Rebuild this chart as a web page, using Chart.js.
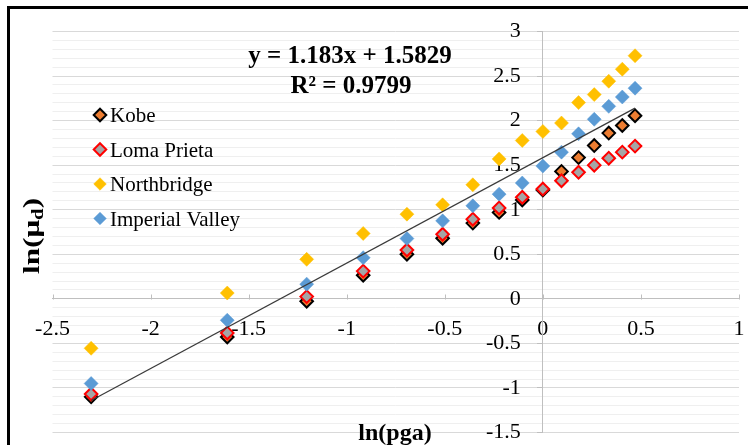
<!DOCTYPE html>
<html>
<head>
<meta charset="utf-8">
<script src="https://cdn.jsdelivr.net/npm/chart.js@4.4.0/dist/chart.umd.min.js"></script>
<style>
  body { margin: 0; background: #fff; }
</style>
</head>
<body>
<canvas id="grafico" width="748" height="445"></canvas>
<script>
// ln(pga) en el eje x
const lnPga = [-2.303, -1.609, -1.204, -0.916, -0.693, -0.511, -0.357, -0.223, -0.105, 0, 0.095, 0.182, 0.262, 0.336, 0.405, 0.47];

// ln(mu_d) por sismo
const kobe = [-1.10, -0.428, -0.027, 0.265, 0.50, 0.68, 0.85, 0.97, 1.11, 1.22, 1.43, 1.585, 1.72, 1.86, 1.945, 2.055];
const lomaPrieta = [-1.068, -0.383, 0.025, 0.311, 0.548, 0.725, 0.894, 1.02, 1.14, 1.232, 1.326, 1.42, 1.50, 1.578, 1.646, 1.714];
const northbridge = [-0.555, 0.065, 0.443, 0.733, 0.95, 1.055, 1.28, 1.57, 1.777, 1.878, 1.973, 2.202, 2.292, 2.442, 2.577, 2.728];
const imperialValley = [-0.95, -0.24, 0.165, 0.462, 0.676, 0.875, 1.044, 1.175, 1.30, 1.49, 1.646, 1.852, 2.015, 2.16, 2.265, 2.364];

const nombresSeries = ['Kobe', 'Loma Prieta', 'Northbridge', 'Imperial Valley'];

// linea de tendencia (extremos)
const tendenciaX = [-2.303, 0.47];
const tendenciaY = [-1.14, 2.14];
const ecuacion = 'y = 1.183x + 1.5829';
const r2 = 'R² = 0.9799';

const xTickLabels = ['-2.5', '-2', '-1.5', '-1', '-0.5', '0', '0.5', '1'];
const yTickLabels = ['-1.5', '-1', '-0.5', '0', '0.5', '1', '1.5', '2', '2.5', '3'];

const estilos = [
    { fondo: '#ED7D31', borde: '#000000', ancho: 2, radio: 6.3 },
    { fondo: '#A5A5A5', borde: '#FF0000', ancho: 2, radio: 6.3 },
    { fondo: '#FFC000', borde: '#FFC000', ancho: 0.5, radio: 7 },
    { fondo: '#5B9BD5', borde: '#5B9BD5', ancho: 0.5, radio: 7 }
];

const series = [kobe, lomaPrieta, northbridge, imperialValley];
const FUENTE = '"Liberation Serif", "Times New Roman", serif';

const datasets = series.map((valores, i) => ({
    label: nombresSeries[i],
    data: valores.map((v, j) => ({ x: lnPga[j], y: v })),
    pointStyle: 'rectRot',
    pointRadius: estilos[i].radio,
    pointBackgroundColor: estilos[i].fondo,
    pointBorderColor: estilos[i].borde,
    pointBorderWidth: estilos[i].ancho,
    order: 4 - i
}));

datasets.push({
    label: 'Tendencia',
    data: tendenciaX.map((x, j) => ({ x: x, y: tendenciaY[j] })),
    showLine: true,
    pointRadius: 0,
    borderColor: '#3a3a3a',
    borderWidth: 1.2,
    fill: false,
    order: 0
});

function esMayor(v) {
    return Math.abs(v * 2 - Math.round(v * 2)) < 1e-6;
}

// los ejes cruzan en el origen: que no ocupen espacio
function sinEspacio(s) {
    if (s.isHorizontal()) s.height = 0; else s.width = 0;
    s.paddingLeft = s.paddingRight = s.paddingTop = s.paddingBottom = 0;
}

const extras = {
    id: 'extras',
    beforeDatasetsDraw(chart) {
        const ctx = chart.ctx;
        const sx = chart.scales.x, sy = chart.scales.y;
        const y0 = Math.round(sy.getPixelForValue(0)) + 0.5;
        ctx.save();
        ctx.strokeStyle = '#bfbfbf';
        ctx.lineWidth = 1;
        xTickLabels.forEach(t => {
            const px = Math.round(sx.getPixelForValue(parseFloat(t))) + 0.5;
            ctx.beginPath();
            ctx.moveTo(px, y0);
            ctx.lineTo(px, y0 - 5);
            ctx.stroke();
        });
        ctx.restore();
    },
    afterDraw(chart) {
        const ctx = chart.ctx;
        ctx.save();
        ctx.fillStyle = '#000';

        // ecuacion
        ctx.font = 'bold 25px ' + FUENTE;
        ctx.textAlign = 'center';
        ctx.textBaseline = 'alphabetic';
        ctx.fillText(ecuacion, 350, 63);
        ctx.fillText(r2, 351, 93);

        // titulo eje x
        ctx.font = 'bold 24px ' + FUENTE;
        ctx.fillText('ln(pga)', 395, 440);

        // titulo eje y con subindice
        ctx.save();
        ctx.translate(39, 236);
        ctx.rotate(-Math.PI / 2);
        ctx.scale(1.3, 1);
        ctx.textAlign = 'left';
        const f1 = 'bold 24px ' + FUENTE, f2 = 'bold 16px ' + FUENTE;
        ctx.font = f1;
        const a = ctx.measureText('ln(μ').width;
        const c = ctx.measureText(')').width;
        ctx.font = f2;
        const b = ctx.measureText('d').width;
        let x = -(a + b + c) / 2;
        ctx.font = f1;
        ctx.fillText('ln(μ', x, 0);
        ctx.font = f2;
        ctx.fillText('d', x + a, 4);
        ctx.font = f1;
        ctx.fillText(')', x + a + b, 0);
        ctx.restore();

        // leyenda
        const filas = [115, 149.5, 184, 218.5];
        ctx.font = '21px ' + FUENTE;
        ctx.textAlign = 'left';
        nombresSeries.forEach((n, i) => {
            const cy = filas[i], cx = 100, r = 6.3;
            ctx.beginPath();
            ctx.moveTo(cx, cy - r);
            ctx.lineTo(cx + r, cy);
            ctx.lineTo(cx, cy + r);
            ctx.lineTo(cx - r, cy);
            ctx.closePath();
            ctx.fillStyle = estilos[i].fondo;
            ctx.fill();
            ctx.lineWidth = estilos[i].ancho;
            ctx.strokeStyle = estilos[i].borde;
            ctx.stroke();
            ctx.fillStyle = '#000';
            ctx.fillText(n, 110, cy + 7);
        });

        // marco
        ctx.fillRect(7, 6, 741, 3);
        ctx.fillRect(7, 6, 3, 439);
        ctx.restore();
    }
};

new Chart(document.getElementById('grafico'), {
    type: 'scatter',
    data: { datasets: datasets },
    options: {
        responsive: false,
        animation: false,
        layout: { padding: { left: 52.5, right: 9, top: 31.5, bottom: 12.5 } },
        plugins: {
            legend: { display: false },
            tooltip: { enabled: false }
        },
        scales: {
            x: {
                type: 'linear',
                position: { y: 0 },
                min: -2.5,
                max: 1,
                afterFit: sinEspacio,
                grid: { drawOnChartArea: false, drawTicks: false },
                border: { display: true, color: '#bfbfbf', width: 1 },
                ticks: {
                    stepSize: 0.5,
                    padding: 17,
                    color: '#000',
                    font: { family: FUENTE, size: 22 },
                    maxRotation: 0,
                    autoSkip: false,
                    callback: (v, i) => xTickLabels[i]
                }
            },
            y: {
                type: 'linear',
                position: { x: 0 },
                min: -1.5,
                max: 3,
                afterFit: sinEspacio,
                grid: {
                    color: c => esMayor(c.tick.value) ? '#d9d9d9' : '#efefef',
                    tickColor: c => esMayor(c.tick.value) ? '#bfbfbf' : 'rgba(0,0,0,0)',
                    tickLength: 5
                },
                border: { display: true, color: '#bfbfbf', width: 1 },
                ticks: {
                    stepSize: 0.1,
                    autoSkip: false,
                    color: '#000',
                    font: { family: FUENTE, size: 22 },
                    callback: v => {
                        if (!esMayor(v)) return '';
                        const k = Math.round((v + 1.5) * 2);
                        return yTickLabels[k] + '    ';
                    }
                }
            }
        }
    },
    plugins: [extras]
});
</script>
</body>
</html>
